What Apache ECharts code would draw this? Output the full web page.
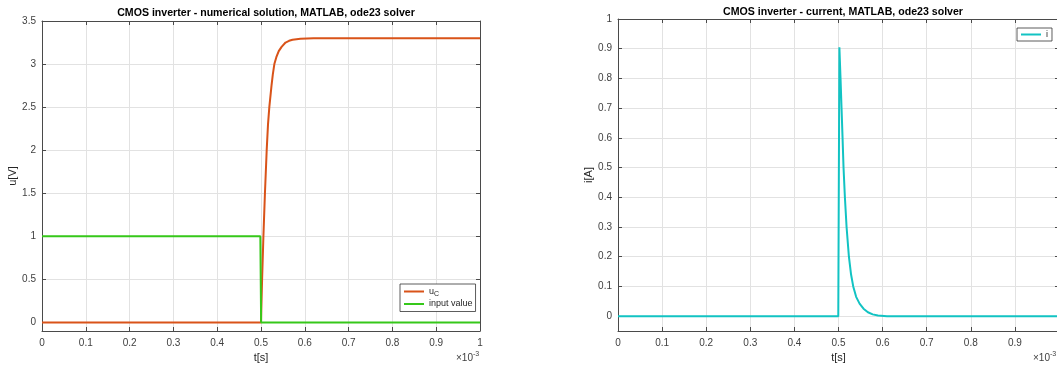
<!DOCTYPE html>
<html>
<head>
<meta charset="utf-8">
<script src="https://cdn.jsdelivr.net/npm/echarts@6/dist/echarts.min.js"></script>
<style>
  html, body { margin: 0; padding: 0; background: #fff; }
  #chart { width: 1057px; height: 365px; }
</style>
</head>
<body>
<div id="chart"></div>
<script>
// Time axis is in units of 1e-3 s (shown with the ×10^-3 exponent label)
const timeTicks = [0, 0.1, 0.2, 0.3, 0.4, 0.5, 0.6, 0.7, 0.8, 0.9, 1];
const voltageTicks = [0, 0.5, 1, 1.5, 2, 2.5, 3, 3.5];
const currentTicks = [0, 0.1, 0.2, 0.3, 0.4, 0.5, 0.6, 0.7, 0.8, 0.9, 1];

// Input step: 1 V until the switching instant, then 0 V
const inputValue = [[0, 1], [0.4985, 1], [0.5003, 0], [1, 0]];

// Capacitor voltage u_C [V]
const capacitorVoltage = [
  [0, 0], [0.5, 0], [0.5025, 0.5], [0.5055, 1.0], [0.509, 1.5], [0.513, 2.0],
  [0.516, 2.3], [0.519, 2.5], [0.524, 2.75], [0.527, 2.88], [0.5305, 3.0],
  [0.535, 3.08], [0.5405, 3.15], [0.547, 3.2], [0.556, 3.25], [0.564, 3.27],
  [0.572, 3.283], [0.59, 3.295], [0.62, 3.3], [1, 3.3]
];

// Inverter current i [A]
const currentValue = [
  [0, 0], [0.4995, 0], [0.502, 0.905], [0.5046, 0.8], [0.5069, 0.7], [0.5092, 0.6],
  [0.5114, 0.5], [0.5145, 0.4], [0.5183, 0.3], [0.5236, 0.2], [0.5285, 0.14],
  [0.5334, 0.1], [0.54, 0.065], [0.5478, 0.042], [0.5567, 0.025], [0.5667, 0.013],
  [0.5775, 0.006], [0.5895, 0.002], [0.61, 0], [1, 0]
];

const FONT = "'Liberation Sans', Arial, Helvetica, sans-serif";
const AXIS_COLOR = '#4a4a4a';
const LABEL_COLOR = '#404040';
const GRID_COLOR = '#e2e2e2';

function mainX(gridIndex, name, hideLast) {
  return {
    gridIndex, type: 'value', min: 0, max: 1, interval: 0.1,
    name, nameLocation: 'middle', nameGap: 20,
    nameTextStyle: { fontFamily: FONT, fontSize: 11, color: '#262626', verticalAlign: 'top' },
    axisLine: { show: true, onZero: false, lineStyle: { color: AXIS_COLOR, width: 1 } },
    axisTick: { show: true, inside: true, length: 4, lineStyle: { color: AXIS_COLOR } },
    axisLabel: {
      fontFamily: FONT, fontSize: 10, color: LABEL_COLOR, margin: 7,
      customValues: timeTicks,
      formatter: v => (hideLast && v === 1) ? '' : String(+v.toFixed(1))
    },
    splitLine: { show: true, lineStyle: { color: GRID_COLOR, width: 1 } }
  };
}
function frameX(gridIndex) {
  return {
    gridIndex, type: 'value', min: 0, max: 1, interval: 0.1, position: 'top',
    axisLine: { show: true, onZero: false, lineStyle: { color: AXIS_COLOR, width: 1 } },
    axisTick: { show: true, inside: true, length: 4, lineStyle: { color: AXIS_COLOR } },
    axisLabel: { show: false }, splitLine: { show: false }
  };
}
function mainY(gridIndex, name, min, max, ticks, split, gap) {
  return {
    gridIndex, type: 'value', min, max, splitNumber: split,
    name, nameLocation: 'middle', nameGap: gap,
    nameTextStyle: { fontFamily: FONT, fontSize: 11, color: '#262626' },
    axisLine: { show: true, onZero: false, lineStyle: { color: AXIS_COLOR, width: 1 } },
    axisTick: { show: true, inside: true, length: 4, customValues: ticks, lineStyle: { color: AXIS_COLOR } },
    axisLabel: {
      fontFamily: FONT, fontSize: 10, color: LABEL_COLOR, margin: 6,
      customValues: ticks, formatter: v => String(+v.toFixed(2))
    },
    splitLine: { show: true, lineStyle: { color: GRID_COLOR, width: 1 } }
  };
}
function frameY(gridIndex, min, max, ticks, split) {
  return {
    gridIndex, type: 'value', min, max, splitNumber: split, position: 'right',
    axisLine: { show: true, onZero: false, lineStyle: { color: AXIS_COLOR, width: 1 } },
    axisTick: { show: true, inside: true, length: 4, customValues: ticks, lineStyle: { color: AXIS_COLOR } },
    axisLabel: { show: false, customValues: ticks }, splitLine: { show: false }
  };
}

const legendBase = {
  orient: 'vertical', itemWidth: 20, itemHeight: 10,
  backgroundColor: '#fff', borderColor: '#333', borderWidth: 0.8, borderRadius: 0,
  itemStyle: { opacity: 0 },
  lineStyle: { width: 2 }
};

const chart = echarts.init(document.getElementById('chart'), null, { renderer: 'canvas' });

chart.setOption({
  backgroundColor: '#ffffff',
  animation: false,
  title: [
    {
      text: 'CMOS inverter - numerical solution, MATLAB, ode23 solver',
      left: 261, top: 3, textAlign: 'center',
      textStyle: { fontFamily: FONT, fontSize: 10.6, fontWeight: 'bold', color: '#000' }
    },
    {
      text: 'CMOS inverter - current, MATLAB, ode23 solver',
      left: 838, top: 2, textAlign: 'center',
      textStyle: { fontFamily: FONT, fontSize: 10.6, fontWeight: 'bold', color: '#000' }
    }
  ],
  grid: [
    { left: 42, width: 438, top: 21, height: 310, outerBoundsMode: 'none', containLabel: false },
    { left: 618, width: 441, top: 19, height: 312, outerBoundsMode: 'none', containLabel: false }
  ],
  xAxis: [
    mainX(0, 't[s]', false),
    frameX(0),
    mainX(1, 't[s]', true),
    frameX(1)
  ],
  yAxis: [
    mainY(0, 'u[V]', -0.1, 3.5, voltageTicks, 7, 24),
    frameY(0, -0.1, 3.5, voltageTicks, 7),
    mainY(1, 'i[A]', -0.05, 1, currentTicks, 10, 22),
    frameY(1, -0.05, 1, currentTicks, 10)
  ],
  legend: [
    Object.assign({}, legendBase, {
      data: ['uC', 'input value'],
      left: 400, top: 284, padding: [3, 3, 3, 3], itemGap: 2,
      formatter: n => n === 'uC' ? '{t|u}{s|C}' : '{t|' + n + '}',
      textStyle: {
        fontFamily: FONT, fontSize: 9, color: '#262626',
        rich: {
          t: { fontFamily: FONT, fontSize: 9, color: '#262626' },
          s: { fontFamily: FONT, fontSize: 7, color: '#262626', padding: [5, 0, 0, 0] }
        }
      }
    }),
    Object.assign({}, legendBase, {
      data: ['i'],
      left: 1017, top: 28, padding: [2, 4, 2, 3],
      textStyle: { fontFamily: FONT, fontSize: 9, color: '#262626' }
    })
  ],
  graphic: [
    {
      type: 'text', left: 456, top: 351,
      style: {
        text: '×10{s|-3}', fontFamily: FONT, fontSize: 10, fill: '#404040',
        rich: { s: { fontFamily: FONT, fontSize: 7, fill: '#404040', padding: [0, 0, 7, 0] } }
      }
    },
    {
      type: 'text', left: 1033, top: 351,
      style: {
        text: '×10{s|-3}', fontFamily: FONT, fontSize: 10, fill: '#404040',
        rich: { s: { fontFamily: FONT, fontSize: 7, fill: '#404040', padding: [0, 0, 7, 0] } }
      }
    }
  ],
  series: [
    {
      name: 'uC', type: 'line', xAxisIndex: 0, yAxisIndex: 0,
      data: capacitorVoltage, symbol: 'none', smooth: false,
      lineStyle: { color: '#D95319', width: 2 }, itemStyle: { color: '#D95319' }
    },
    {
      name: 'input value', type: 'line', xAxisIndex: 0, yAxisIndex: 0,
      data: inputValue, symbol: 'none',
      lineStyle: { color: '#36c81a', width: 2 }, itemStyle: { color: '#36c81a' }
    },
    {
      name: 'i', type: 'line', xAxisIndex: 2, yAxisIndex: 2,
      data: currentValue, symbol: 'none',
      lineStyle: { color: '#12c3c3', width: 2 }, itemStyle: { color: '#12c3c3' }
    }
  ]
});
</script>
</body>
</html>
